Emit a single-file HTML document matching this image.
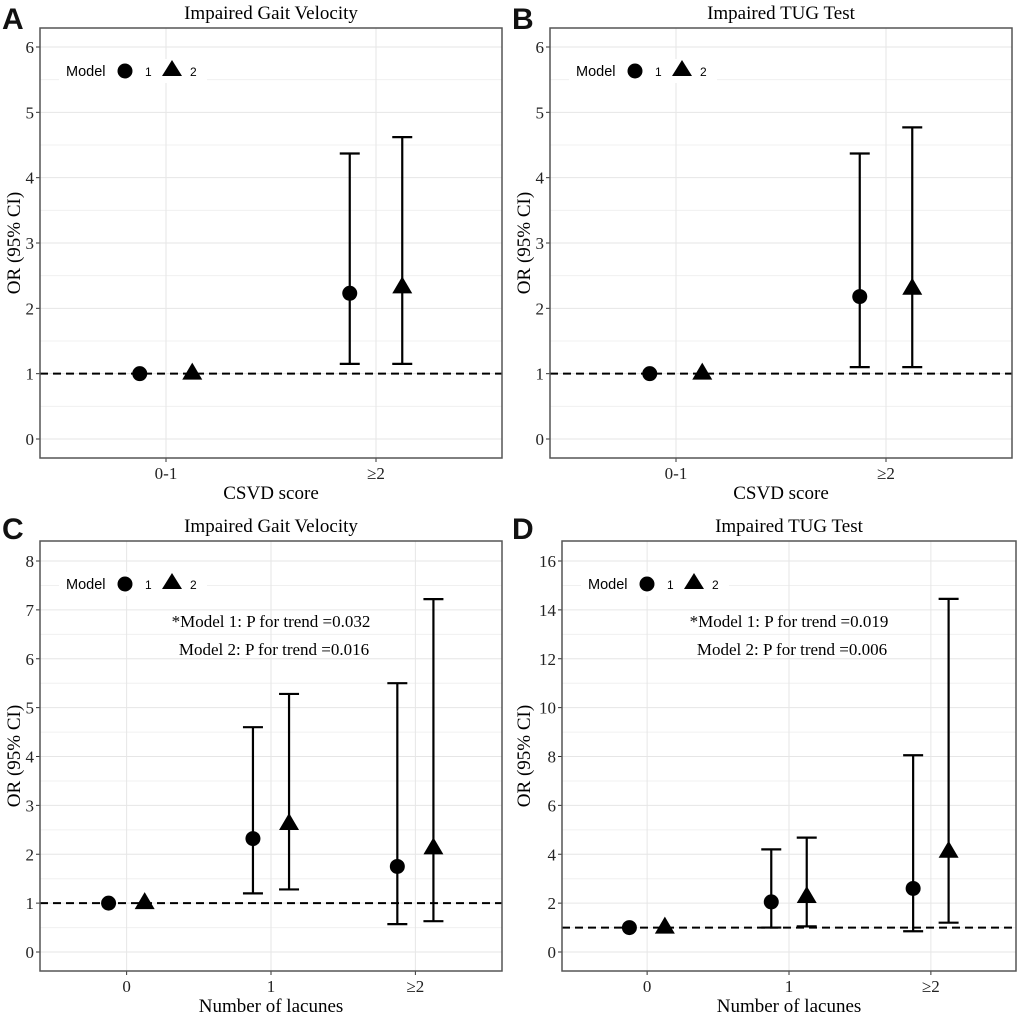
<!DOCTYPE html>
<html><head><meta charset="utf-8"><style>
html,body{margin:0;padding:0;background:#fff;}
svg{display:block;}
</style></head><body>
<svg id="fig" width="1020" height="1016" viewBox="0 0 1020 1016" xmlns="http://www.w3.org/2000/svg"></svg>
<script>
const NS='http://www.w3.org/2000/svg';
// Panel A data
const catsA=['0-1','≥2'];
const orA1=[1,2.23], loA1=[null,1.15], hiA1=[null,4.37];
const orA2=[1,2.32], loA2=[null,1.15], hiA2=[null,4.62];
const ticksA=[0,1,2,3,4,5,6];
// Panel B data
const catsB=['0-1','≥2'];
const orB1=[1,2.18], loB1=[null,1.1], hiB1=[null,4.37];
const orB2=[1,2.3], loB2=[null,1.1], hiB2=[null,4.77];
const ticksB=[0,1,2,3,4,5,6];
// Panel C data
const catsC=['0','1','≥2'];
const orC1=[1,2.32,1.75], loC1=[null,1.2,0.57], hiC1=[null,4.6,5.5];
const orC2=[1,2.62,2.12], loC2=[null,1.28,0.63], hiC2=[null,5.28,7.22];
const ticksC=[0,1,2,3,4,5,6,7,8];
// Panel D data
const catsD=['0','1','≥2'];
const orD1=[1,2.05,2.6], loD1=[null,1.0,0.85], hiD1=[null,4.2,8.05];
const orD2=[1,2.25,4.1], loD2=[null,1.05,1.2], hiD2=[null,4.68,14.45];
const ticksD=[0,2,4,6,8,10,12,14,16];

const svg=document.getElementById('fig');
function el(tag,attrs,parent,text){const e=document.createElementNS(NS,tag);for(const k in attrs)e.setAttribute(k,attrs[k]);if(text!==undefined)e.textContent=text;(parent||svg).appendChild(e);return e;}

function panel(p){
  const g=el('g',{});
  
  
  const [L,R,T,B]=[p.box[0],p.box[1],p.box[2],p.box[3]];
  const y=v=>p.y0+(v)*(p.y1-p.y0)/p.vmax;
  const n=p.cats.length;
  const step=(R-L)/(n+0.2);
  const x=i=>L+(i+0.6)*step;
  const dodge=0.125*step;
  const lt=el('text',{x:p.lx,y:p.ly,'font-family':'Liberation Sans, sans-serif','font-weight':'bold','font-size':30,fill:'#111'},g,p.letter);
  
  const tt=el('text',{x:(L+R)/2,y:T-9,'text-anchor':'middle','font-family':'Liberation Serif, serif','font-size':19},g,p.title);
  
  for(let k=0;k<p.ticks.length-1;k++){const v=(p.ticks[k]+p.ticks[k+1])/2;el('line',{x1:L,x2:R,y1:y(v),y2:y(v),stroke:'#f0f0f0','stroke-width':1},g);}
  p.ticks.forEach(v=>{
    const gl=el('line',{x1:L,x2:R,y1:y(v),y2:y(v),stroke:'#e6e6e6','stroke-width':1},g);
    
    el('line',{x1:L-4,x2:L,y1:y(v),y2:y(v),stroke:'#333'},g);
    const t=el('text',{x:L-6,y:y(v)+6,'text-anchor':'end','font-family':'Liberation Serif, serif','font-size':17,fill:'#222'},g,String(v));
    
  });
  p.cats.forEach((c,i)=>{
    el('line',{x1:x(i),x2:x(i),y1:T,y2:B,stroke:'#e6e6e6'},g);
    el('line',{x1:x(i),x2:x(i),y1:B,y2:B+4,stroke:'#333'},g);
    const t=el('text',{x:x(i),y:B+21,'text-anchor':'middle','font-family':'Liberation Serif, serif','font-size':17,fill:'#222'},g,c);
    
  });
  const rl=el('line',{x1:L,x2:R,y1:y(1),y2:y(1),stroke:'#000','stroke-width':2,'stroke-dasharray':'8,5'},g);
  
  const series=[[p.or1,p.lo1,p.hi1,-1],[p.or2,p.lo2,p.hi2,1]];
  series.forEach((s,si)=>{
    s[0].forEach((v,i)=>{
      const cx=x(i)+s[3]*dodge;
      if(s[1][i]!==null){
        const eb=el('path',{d:`M${cx-10},${y(s[2][i])}H${cx+10}M${cx},${y(s[2][i])}V${y(s[1][i])}M${cx-10},${y(s[1][i])}H${cx+10}`,stroke:'#000','stroke-width':2.2,fill:'none'},g);
        
      }
      let m;
      if(si===0){m=el('circle',{cx:cx,cy:y(v),r:7.5,fill:'#000'},g);}
      else{const cy=y(v);m=el('path',{d:`M${cx},${cy-11}L${cx+10},${cy+6}L${cx-10},${cy+6}Z`,fill:'#000'},g);}
      
    });
  });
  const bx=el('rect',{x:L,y:T,width:R-L,height:B-T,fill:'none',stroke:'#555','stroke-width':1.5},g);
  
  const lg=el('g',{},g);
  const ly=p.legY;
  el('rect',{x:L+19,y:ly-12,width:148,height:24,fill:'#fff'},lg);
  el('text',{x:L+26,y:ly+5,'font-family':'Liberation Sans, sans-serif','font-size':14.5},lg,'Model');
  el('circle',{cx:L+85,cy:ly,r:7.5,fill:'#000'},lg);
  el('text',{x:L+105,y:ly+5,'font-family':'Liberation Sans, sans-serif','font-size':12},lg,'1');
  el('path',{d:`M${L+132},${ly-11}L${L+142},${ly+5}L${L+122},${ly+5}Z`,fill:'#000'},lg);
  el('text',{x:L+150,y:ly+5,'font-family':'Liberation Sans, sans-serif','font-size':12},lg,'2');
  const xt=el('text',{x:(L+R)/2,y:B+41,'text-anchor':'middle','font-family':'Liberation Serif, serif','font-size':19},g,p.xlab);
  
  const yc=(T+B)/2;
  const yt=el('text',{x:p.ytx,y:yc,'text-anchor':'middle','font-family':'Liberation Serif, serif','font-size':19,transform:`rotate(-90 ${p.ytx} ${yc})`},g,'OR (95% CI)');
  
  if(p.ann){p.ann.forEach((a,k)=>{const t=el('text',{x:x(1)+(k?3:0),y:p.annY[k],'text-anchor':'middle','font-family':'Liberation Serif, serif','font-size':17},g,a);});}
}
panel({letter:'A',lx:2,ly:29,title:'Impaired Gait Velocity',box:[40,502,28,458],y0:439,y1:47,vmax:6,cats:catsA,ticks:ticksA,or1:orA1,lo1:loA1,hi1:hiA1,or2:orA2,lo2:loA2,hi2:hiA2,legY:71,xlab:'CSVD score',ytx:20});
panel({letter:'B',lx:512,ly:29,title:'Impaired TUG Test',box:[550,1012,28,458],y0:439,y1:47,vmax:6,cats:catsB,ticks:ticksB,or1:orB1,lo1:loB1,hi1:hiB1,or2:orB2,lo2:loB2,hi2:hiB2,legY:71,xlab:'CSVD score',ytx:530});
panel({letter:'C',lx:2,ly:539,title:'Impaired Gait Velocity',box:[40,502,541,971],y0:952,y1:561,vmax:8,cats:catsC,ticks:ticksC,or1:orC1,lo1:loC1,hi1:hiC1,or2:orC2,lo2:loC2,hi2:hiC2,legY:584,xlab:'Number of lacunes',ytx:20,ann:['*Model 1: P for trend =0.032','Model 2: P for trend =0.016'],annY:[627,655]});
panel({letter:'D',lx:512,ly:539,title:'Impaired TUG Test',box:[562,1016,541,971],y0:952,y1:561,vmax:16,cats:catsD,ticks:ticksD,or1:orD1,lo1:loD1,hi1:hiD1,or2:orD2,lo2:loD2,hi2:hiD2,legY:584,xlab:'Number of lacunes',ytx:530,ann:['*Model 1: P for trend =0.019','Model 2: P for trend =0.006'],annY:[627,655]});
</script>
</body></html>
